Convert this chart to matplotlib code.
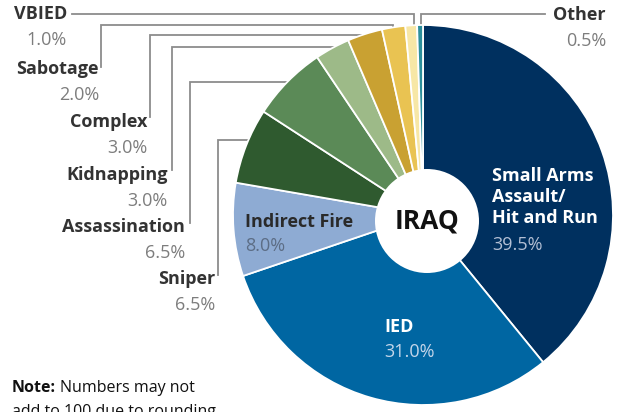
import matplotlib
matplotlib.use("Agg")
import matplotlib.pyplot as plt
from matplotlib.patches import Circle

plt.rcParams['font.family'] = ['Open Sans', 'DejaVu Sans']

categories = ["Small Arms Assault/\nHit and Run", "IED", "Indirect Fire", "Sniper",
              "Assassination", "Kidnapping", "Complex", "Sabotage", "VBIED", "Other"]
values = [39.5, 31.0, 8.0, 6.5, 6.5, 3.0, 3.0, 2.0, 1.0, 0.5]
pct_labels = ["39.5%", "31.0%", "8.0%", "6.5%", "6.5%", "3.0%", "3.0%", "2.0%", "1.0%", "0.5%"]
colors = ["#00305f", "#0066a2", "#8eabd3", "#2f5a2f", "#5b8a57", "#9dba88",
          "#c9a132", "#e9c352", "#f7e7a6", "#2b8f9c"]

W, H = 618, 412
fig = plt.figure(figsize=(W / 100, H / 100), dpi=100)
ax = fig.add_axes([0, 0, 1, 1])

def Y(y):
    return H - y

wedges, _ = ax.pie(values, colors=colors, startangle=90, counterclock=False,
                   center=(423, Y(215)), radius=190,
                   wedgeprops=dict(edgecolor="white", linewidth=1.3))
for w in wedges:
    w.set_zorder(3)

ax.add_patch(Circle((427, Y(221)), 52, facecolor="white", edgecolor="none", zorder=4))
ax.text(427, Y(221), "IRAQ", ha="center", va="center", fontsize=19, fontweight="bold",
        color="#111111", zorder=5)

ax.set_xlim(0, W)
ax.set_ylim(0, H)
ax.set_aspect("equal")
ax.axis("off")

lc = "#8c8c8c"
lw = 1.3
# leader lines (pie drawn on top hides the ends)
lines = [
    [(72, 14), (414, 14), (414, 40)],          # VBIED
    [(101, 67), (101, 25), (393, 25), (393, 40)],  # Sabotage
    [(150, 117), (150, 35), (380, 35)],        # Complex
    [(172, 170), (172, 47), (345, 47)],        # Kidnapping
    [(190, 223), (190, 82), (300, 82)],        # Assassination
    [(218, 275), (218, 140), (260, 140)],      # Sniper
    [(545, 14), (421, 14), (421, 40)],         # Other
]
for pts in lines:
    ax.plot([p[0] for p in pts], [Y(p[1]) for p in pts], color=lc, lw=lw, zorder=2,
            solid_joinstyle="miter")

fs = 13
name_c = "#333333"
pct_c = "#7d7d7d"
outside = [
    (8, 67, 14),    # VBIED
    (7, 99, 69),    # Sabotage
    (6, 147, 122),  # Complex
    (5, 168, 175),  # Kidnapping
    (4, 185, 227),  # Assassination
    (3, 215, 279),  # Sniper
    (9, 606, 15),   # Other
]
for idx, x, y in outside:
    ax.text(x, Y(y), categories[idx], ha="right", va="center", fontsize=fs,
            fontweight="bold", color=name_c, zorder=6)
    ax.text(x, Y(y + 26), pct_labels[idx], ha="right", va="center", fontsize=fs,
            color=pct_c, zorder=6)

# inside labels
ax.text(492, Y(197), "Small Arms\nAssault/\nHit and Run", ha="left", va="center",
        fontsize=fs, fontweight="bold", color="white", linespacing=1.22, zorder=6)
ax.text(492, Y(245), pct_labels[0], ha="left", va="center", fontsize=fs,
        color="#b3bfd4", zorder=6)

ax.text(384, Y(327), categories[1], ha="left", va="center", fontsize=fs,
        fontweight="bold", color="white", zorder=6)
ax.text(384, Y(352), pct_labels[1], ha="left", va="center", fontsize=fs,
        color="#c4d6ea", zorder=6)

ax.text(245, Y(222), categories[2], ha="left", va="center", fontsize=fs,
        fontweight="bold", color="#2a2a2a", zorder=6)
ax.text(245, Y(246), pct_labels[2], ha="left", va="center", fontsize=fs,
        color="#5c6d85", zorder=6)

# note
nfs = 11.5
t1 = ax.text(12, Y(392), "Note:", ha="left", va="baseline", fontsize=nfs,
             fontweight="bold", color="#111111", zorder=6)
fig.canvas.draw()
bb = t1.get_window_extent()
ax.text(bb.x1 + 4, Y(392), "Numbers may not", ha="left", va="baseline", fontsize=nfs,
        color="#111111", zorder=6)
ax.text(12, Y(416), "add to 100 due to rounding", ha="left", va="baseline", fontsize=nfs,
        color="#111111", zorder=6)

fig.savefig("out.png", dpi=100)
